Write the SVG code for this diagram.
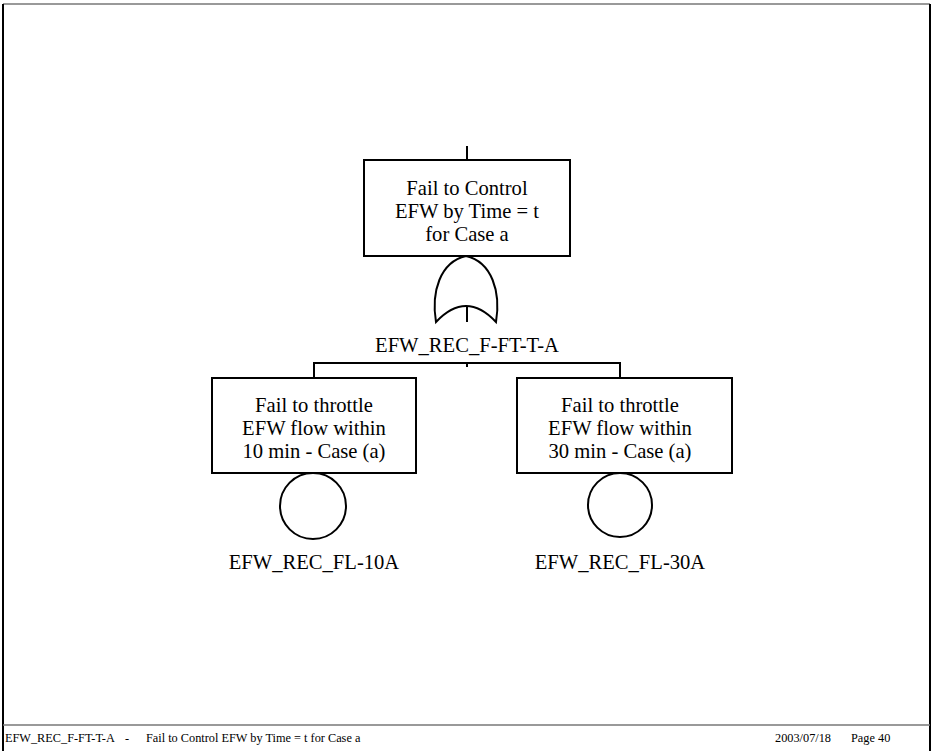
<svg xmlns="http://www.w3.org/2000/svg" width="932" height="751" viewBox="0 0 932 751">
  <style>
    .shape { fill: #ffffff; stroke: #000000; stroke-width: 2; }
    .wire { fill: none; stroke: #000000; stroke-width: 2; }
    .lbl { font-family: 'Liberation Serif', 'DejaVu Serif', serif; font-size: 20.6px; fill: #000000; text-anchor: middle; }
    .foot { font-family: 'Liberation Serif', 'DejaVu Serif', serif; font-size: 12.3px; fill: #000000; }
  </style>

  <!-- page frame -->
  <g id="frame">
    <rect x="0" y="0" width="932" height="751" fill="#ffffff"/>
    <line x1="3" y1="4" x2="930" y2="4" stroke="#777777" stroke-width="1.5"/>
    <line x1="3" y1="4" x2="3" y2="751" stroke="#000000" stroke-width="2"/>
    <line x1="930" y1="4" x2="930" y2="751" stroke="#000000" stroke-width="2"/>
    <line x1="3" y1="725" x2="930" y2="725" stroke="#777777" stroke-width="1.5"/>
  </g>

  <!-- connectors -->
  <g id="connectors">
    <line class="wire" x1="467" y1="146" x2="467" y2="160"/>
    <line class="wire" x1="467" y1="306" x2="467" y2="322"/>
    <polyline class="wire" points="314,378 314,363 620,363 620,378"/>
    <line class="wire" x1="467" y1="363" x2="467" y2="367"/>
  </g>

  <!-- top event -->
  <g id="top-event">
    <rect class="shape" x="364" y="160" width="206" height="96"/>
    <text class="lbl" x="467" y="195">Fail to Control</text>
    <text class="lbl" x="467" y="218">EFW by Time = t</text>
    <text class="lbl" x="467" y="241">for Case a</text>
  </g>

  <!-- OR gate -->
  <g id="or-gate">
    <path class="shape" d="M436,322 C431,292 440,262 466,256 C492,262 501,292 496,322 Q466,290 436,322 Z"/>
    <text class="lbl" x="467" y="352">EFW_REC_F-FT-T-A</text>
  </g>

  <!-- basic event 10 min -->
  <g id="event-10a">
    <rect class="shape" x="212" y="378" width="204" height="95"/>
    <text class="lbl" x="314" y="412">Fail to throttle</text>
    <text class="lbl" x="314" y="435">EFW flow within</text>
    <text class="lbl" x="314" y="458">10 min - Case (a)</text>
    <circle class="shape" cx="313" cy="506" r="33"/>
    <text class="lbl" x="314" y="569">EFW_REC_FL-10A</text>
  </g>

  <!-- basic event 30 min -->
  <g id="event-30a">
    <rect class="shape" x="517" y="378" width="215" height="95"/>
    <text class="lbl" x="620" y="412">Fail to throttle</text>
    <text class="lbl" x="620" y="435">EFW flow within</text>
    <text class="lbl" x="620" y="458">30 min - Case (a)</text>
    <circle class="shape" cx="620" cy="505" r="32"/>
    <text class="lbl" x="620" y="569">EFW_REC_FL-30A</text>
  </g>

  <!-- footer -->
  <g id="footer">
    <text class="foot" x="5" y="742">EFW_REC_F-FT-T-A</text>
    <text class="foot" x="125" y="742">-</text>
    <text class="foot" x="146" y="742">Fail to Control EFW by Time = t for Case a</text>
    <text class="foot" x="775" y="742">2003/07/18</text>
    <text class="foot" x="851" y="742">Page 40</text>
  </g>
</svg>
